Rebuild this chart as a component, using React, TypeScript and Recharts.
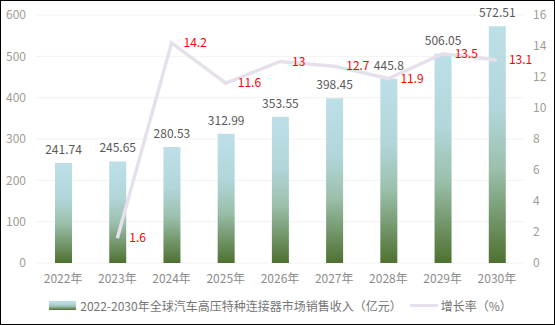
import React from "react";
import {
  ComposedChart,
  Bar,
  Line,
  XAxis,
  YAxis,
  CartesianGrid,
  Legend,
  LabelList,
} from "recharts";

// 数据
const years = ["2022年", "2023年", "2024年", "2025年", "2026年", "2027年", "2028年", "2029年", "2030年"];
const revenue = [241.74, 245.65, 280.53, 312.99, 353.55, 398.45, 445.8, 506.05, 572.51];
const growth = [null, 1.6, 14.2, 11.6, 13, 12.7, 11.9, 13.5, 13.1];
const leftTicks = [0, 100, 200, 300, 400, 500, 600];
const rightTicks = [0, 2, 4, 6, 8, 10, 12, 14, 16];

const barName = "2022-2030年全球汽车高压特种连接器市场销售收入（亿元）";
const lineName = "增长率（%）";

const data = years.map((y, i) => ({ year: y, revenue: revenue[i], growth: growth[i] }));

const FONT = "'Noto Sans CJK SC', 'Noto Sans', sans-serif";

const LegendBox = () => (
  <div
    style={{
      display: "flex",
      alignItems: "center",
      justifyContent: "center",
      fontSize: 12,
      color: "#757575",
      fontFamily: FONT,
      whiteSpace: "nowrap",
      paddingLeft: 6,
    }}
  >
    <span
      style={{
        display: "inline-block",
        width: 27,
        height: 9,
        marginRight: 4,
        background: "linear-gradient(to bottom, #bedfe8 0%, #b2d6da 35%, #9cc0ac 60%, #4e7130 100%)",
      }}
    />
    <span style={{ marginRight: 8 }}>{barName}</span>
    <span
      style={{
        display: "inline-block",
        width: 28,
        height: 3,
        marginRight: 3,
        background: "#e6e0ec",
      }}
    />
    <span>{lineName}</span>
  </div>
);

const App = () => {
  return (
    <div
      style={{
        position: "absolute",
        left: 0,
        top: 0,
        width: 555,
        height: 325,
        boxSizing: "border-box",
        border: "1px solid #000",
        background: "#fff",
        fontFamily: FONT,
      }}
    >
      <ComposedChart
        width={553}
        height={323}
        data={data}
        margin={{ top: 14, right: 5, bottom: 36, left: 5 }}
        barCategoryGap="34%"
      >
        <defs>
          <linearGradient id="barGrad" x1="0" y1="0" x2="0" y2="1">
            <stop offset="0%" stopColor="#bedfe8" />
            <stop offset="35%" stopColor="#b2d6da" />
            <stop offset="60%" stopColor="#9cc0ac" />
            <stop offset="100%" stopColor="#4e7130" />
          </linearGradient>
        </defs>
        <CartesianGrid vertical={false} stroke="#f2f2f2" yAxisId="left" />
        <XAxis
          dataKey="year"
          axisLine={false}
          tickLine={false}
          tick={{ fill: "#8c8c8c", fontSize: 12 }}
          tickMargin={5}
          height={25}
          interval={0}
        />
        <YAxis
          yAxisId="left"
          domain={[0, 600]}
          ticks={leftTicks}
          axisLine={false}
          tickLine={false}
          tick={{ fill: "#a39c94", fontSize: 12 }}
          width={30}
          tickMargin={4}
        />
        <YAxis
          yAxisId="right"
          orientation="right"
          domain={[0, 16]}
          ticks={rightTicks}
          axisLine={false}
          tickLine={false}
          tick={{ fill: "#a39c94", fontSize: 12 }}
          width={25}
          tickMargin={3}
        />
        <Legend
          layout="horizontal"
          verticalAlign="middle"
          align="center"
          wrapperStyle={{ top: 296, left: 0, width: 553 }}
          content={() => <LegendBox />}
        />
        <Bar
          yAxisId="left"
          dataKey="revenue"
          name={barName}
          fill="url(#barGrad)"
          barSize={17}
          isAnimationActive={false}
        >
          <LabelList dataKey="revenue" position="top" offset={9} fill="#595959" fontSize={12} />
        </Bar>
        <Line
          yAxisId="right"
          type="linear"
          dataKey="growth"
          name={lineName}
          stroke="#e6e0ec"
          strokeWidth={3.5}
          dot={false}
          activeDot={false}
          isAnimationActive={false}
        >
          <LabelList dataKey="growth" position="right" offset={12} fill="#ff0000" fontSize={12} />
        </Line>
      </ComposedChart>
    </div>
  );
};

export default App;
